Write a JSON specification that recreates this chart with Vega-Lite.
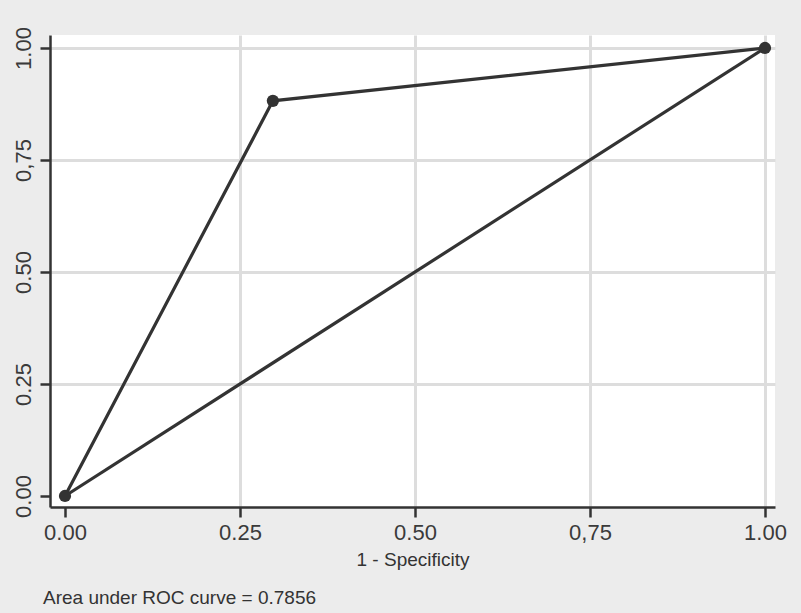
{
  "$schema": "https://vega.github.io/schema/vega-lite/v6.json",
  "width": 725,
  "height": 472,
  "autosize": {"type": "none"},
  "padding": {"left": 50, "top": 35, "right": 26, "bottom": 106},
  "background": "#ececec",
  "config": {
    "view": {"fill": "white", "stroke": null},
    "font": "Liberation Sans"
  },
  "title": {
    "text": "Area under ROC curve = 0.7856",
    "orient": "bottom",
    "anchor": "start",
    "frame": "group",
    "dx": -7,
    "offset": 20,
    "fontSize": 19,
    "fontWeight": "normal",
    "color": "#333333",
    "font": "Liberation Sans"
  },
  "data": {
    "values": [
      {"fpr": 0, "tpr": 0, "series": "roc"},
      {"fpr": 0.297, "tpr": 0.882, "series": "roc"},
      {"fpr": 1, "tpr": 1, "series": "roc"},
      {"fpr": 0, "tpr": 0, "series": "reference"},
      {"fpr": 1, "tpr": 1, "series": "reference"}
    ]
  },
  "encoding": {
    "x": {
      "field": "fpr",
      "type": "quantitative",
      "scale": {"domain": [-0.0214, 1.0143], "nice": false, "zero": false},
      "axis": {
        "title": "1 - Specificity",
        "values": [0, 0.25, 0.5, 0.75, 1],
        "labelExpr": "datum.value == 0.75 ? '0,75' : format(datum.value, '.2f')",
        "labelFontSize": 22,
        "labelColor": "#3a3a3a",
        "labelPadding": 5,
        "titleFontSize": 19,
        "titleFontWeight": "normal",
        "titleColor": "#333333",
        "titlePadding": 7,
        "domainColor": "#333333",
        "domainWidth": 2.5,
        "tickColor": "#333333",
        "tickWidth": 2.5,
        "tickSize": 10,
        "gridColor": "#dddddd",
        "gridWidth": 3,
        "gridOpacity": {"condition": {"test": "datum.value == 0", "value": 0}, "value": 1}
      }
    },
    "y": {
      "field": "tpr",
      "type": "quantitative",
      "scale": {"domain": [-0.0246, 1.029], "nice": false, "zero": false},
      "axis": {
        "title": null,
        "values": [0, 0.25, 0.5, 0.75, 1],
        "labelExpr": "datum.value == 0.75 ? '0,75' : format(datum.value, '.2f')",
        "labelAngle": -90,
        "labelAlign": "center",
        "labelBaseline": "bottom",
        "labelFontSize": 22,
        "labelColor": "#3a3a3a",
        "labelPadding": 5,
        "domainColor": "#333333",
        "domainWidth": 2.5,
        "tickColor": "#333333",
        "tickWidth": 2.5,
        "tickSize": 10,
        "gridColor": "#dddddd",
        "gridWidth": 3,
        "gridOpacity": {"condition": {"test": "datum.value == 0", "value": 0}, "value": 1}
      }
    }
  },
  "layer": [
    {
      "mark": {"type": "line", "color": "#333333", "strokeWidth": 3.2},
      "encoding": {
        "detail": {"field": "series"},
        "order": {"field": "fpr"}
      }
    },
    {
      "transform": [{"filter": "datum.series == 'roc'"}],
      "mark": {"type": "point", "filled": true, "color": "#333333", "size": 150, "opacity": 1}
    }
  ]
}
